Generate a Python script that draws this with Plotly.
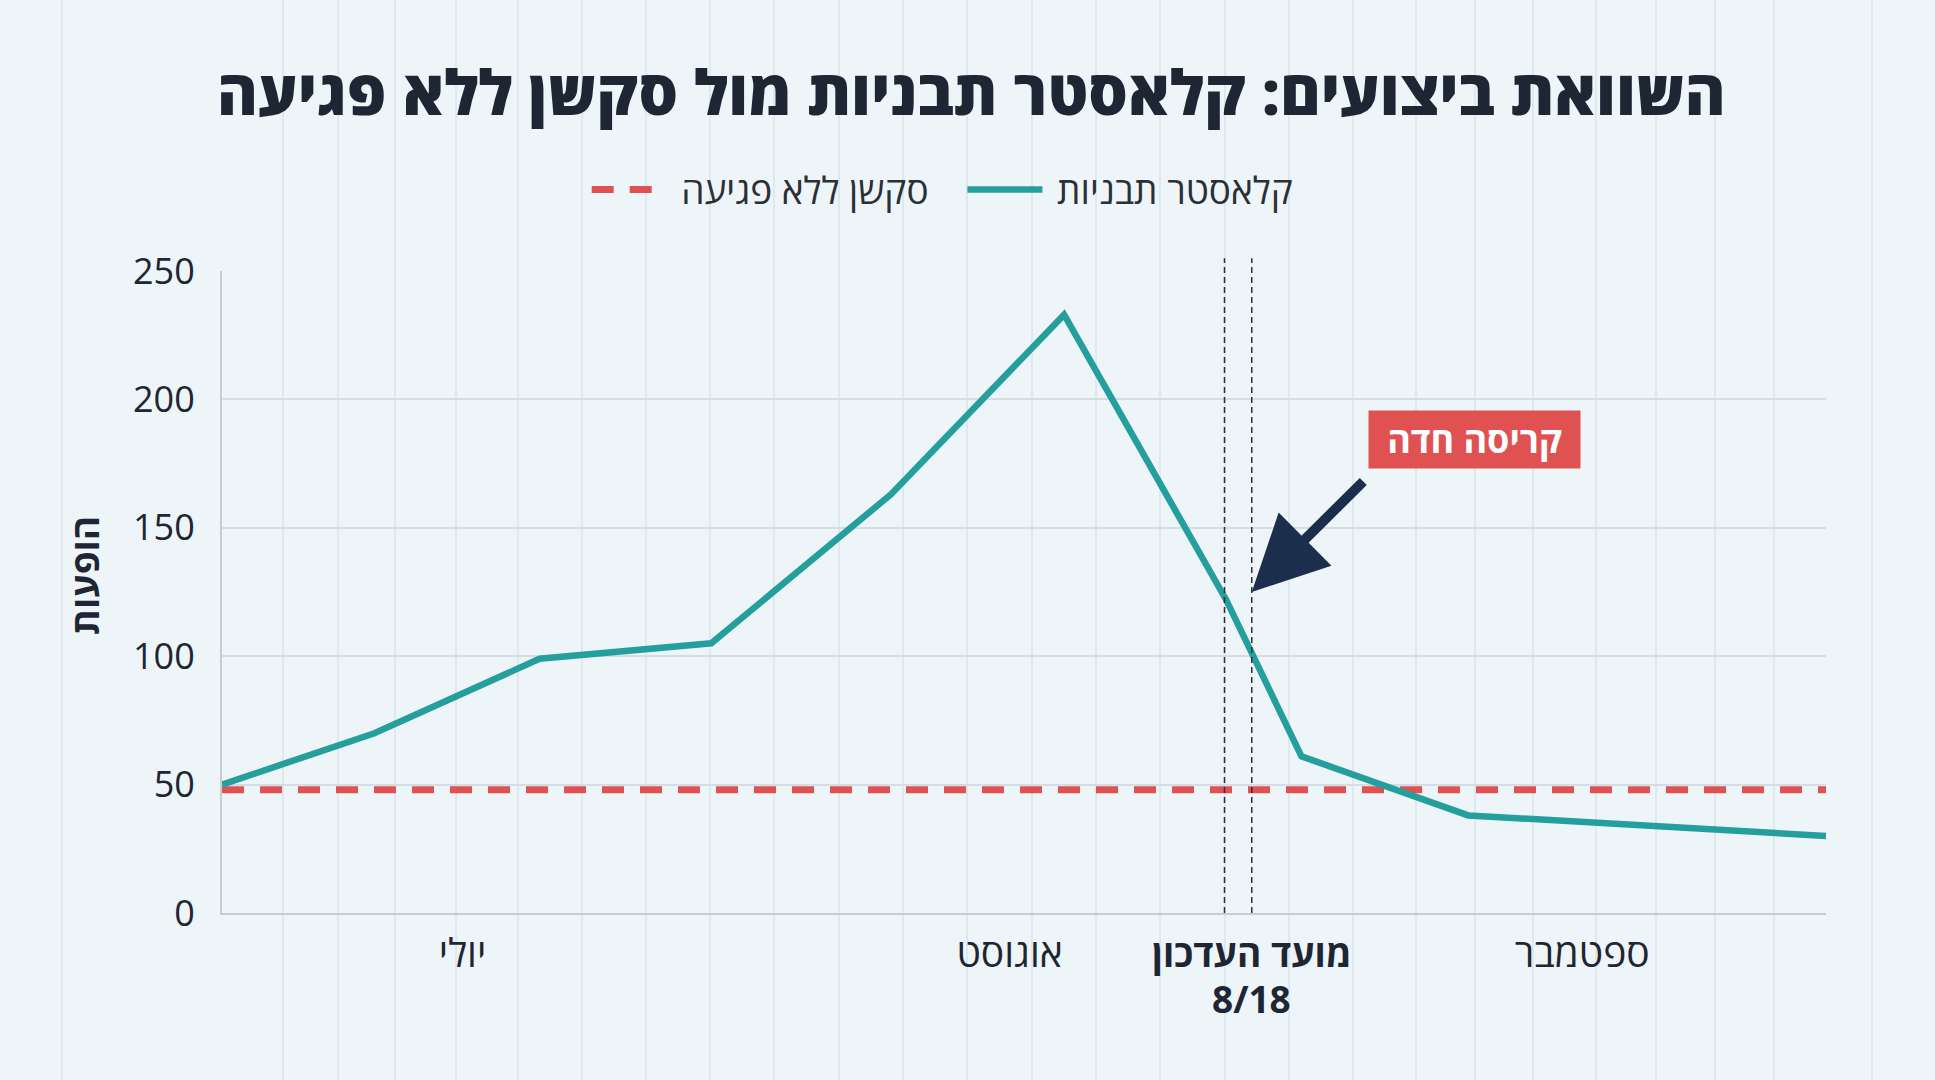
import plotly.graph_objects as go

# ---- data ----
x_pos = [0, 9.5, 19.8, 30.5, 41.7, 52.5, 62.6, 67.3, 77.7, 89.3, 100]
cluster_vals = [50, 70, 99, 105, 163, 233, 122, 61, 38, 34, 30]
baseline_x = [0, 100]
baseline_vals = [48, 48]

tick_vals = [15.0, 49.1, 64.2, 84.8]
tick_text = ["יולי", "אוגוסט", "מועד העדכון", "ספטמבר"]
update_date_label = "8/18"

update_marks = [62.5, 64.2]
crash_point = (64.2, 125)

TITLE = "השוואת ביצועים: קלאסטר תבניות מול סקשן ללא פגיעה"
NAME_CLUSTER = "קלאסטר תבניות"
NAME_BASE = "סקשן ללא פגיעה"
Y_TITLE = "הופעות"
CALLOUT = "קריסה חדה"

# ---- style ----
W, H = 1935, 1080
ML, MR, MT, MB = 222, 109, 271, 167
PW = W - ML - MR
PH = H - MT - MB
BG = "#EEF5F8"
TEAL = "#259E9E"
RED = "#E05252"
NAVY = "#1B2E4B"
TXT = "#1E2633"
FONT = "Open Sans, DejaVu Sans, sans-serif"
NB = "\u00a0"

# decorative background rule lines (pixel positions across the page)
bg_lines_px = [62, 283, 338, 395, 456, 518, 582, 646, 710, 774, 839, 903, 967,
               1032, 1096, 1160, 1225, 1289, 1353, 1416, 1475, 1533, 1596,
               1656, 1715, 1774, 1872]

fig = go.Figure()
fig.add_trace(go.Scatter(
    x=baseline_x, y=baseline_vals, mode="lines", name=NB + NAME_BASE + NB * 3,
    line=dict(color=RED, width=7, dash="22px,16px"),
))
fig.add_trace(go.Scatter(
    x=x_pos, y=cluster_vals, mode="lines", name=NB + NAME_CLUSTER,
    line=dict(color=TEAL, width=6.5),
))

shapes = []
for px in bg_lines_px:
    xp = (px - ML) / PW
    shapes.append(dict(type="line", xref="paper", yref="paper",
                       x0=xp, x1=xp, y0=-0.3, y1=1.45, layer="below",
                       line=dict(color="#D6E0E6", width=1.2)))
for xv in update_marks:
    shapes.append(dict(type="line", xref="x", yref="paper",
                       x0=xv, x1=xv, y0=0, y1=1.02, layer="above",
                       line=dict(color="#2B2F36", width=1.5, dash="6px,4px")))

annotations = [
    dict(x=crash_point[0], y=crash_point[1], xref="x", yref="y",
         ax=113, ay=-112, text="", showarrow=True,
         arrowhead=2, arrowsize=1.5, arrowwidth=10, arrowcolor=NAVY),
    dict(x=78.1, y=184.5, xref="x", yref="y", text="<b>" + CALLOUT + "</b>",
         showarrow=False, font=dict(family=FONT, size=36, color="white"),
         bgcolor=RED, borderpad=6, width=199, height=45),
    dict(x=(84 - ML) / PW, y=(913 - 576) / PH, xref="paper", yref="paper",
         xanchor="center", yanchor="middle",
         text="<b>" + Y_TITLE + "</b>", textangle=-90, showarrow=False,
         font=dict(family=FONT, size=37, color=TXT)),
    dict(x=tick_vals[2], y=(913 - 999) / PH, xref="x", yref="paper",
         xanchor="center", yanchor="middle", showarrow=False,
         text="<b>" + update_date_label + "</b>",
         font=dict(family=FONT, size=37, color=TXT)),
]

fig.update_layout(
    width=W, height=H,
    margin=dict(l=ML, r=MR, t=MT, b=MB),
    paper_bgcolor=BG, plot_bgcolor="rgba(0,0,0,0)",
    title=dict(text=TITLE, x=0.502, xanchor="center",
               y=1 - 93 / H, yanchor="middle", yref="container",
               font=dict(family=FONT, size=62, color=TXT, weight=800)),
    legend=dict(orientation="h", x=0.449, xanchor="center",
                y=1 - 190 / H, yanchor="middle", yref="container",
                font=dict(family=FONT, size=37, color="#2B2F36"),
                bgcolor="rgba(0,0,0,0)", itemwidth=75),
    shapes=shapes, annotations=annotations,
    showlegend=True,
)
fig.update_xaxes(range=[0, 100], tickvals=tick_vals,
                 ticktext=[t if i != 2 else "<b><span style='font-size:37px'>" + t + "</span></b>"
                           for i, t in enumerate(tick_text)],
                 showgrid=False, zeroline=False, showline=True,
                 linecolor="#C3CDD3", linewidth=2, ticks="",
                 ticklabelstandoff=5,
                 tickfont=dict(family=FONT, size=39, color=TXT))
fig.update_yaxes(range=[0, 250], tickvals=[0, 50, 100, 150, 200, 250],
                 showgrid=True, gridcolor="#D3DDE2", gridwidth=1.5,
                 zeroline=False, showline=True, linecolor="#C3CDD3",
                 linewidth=2, ticks="", ticklabelstandoff=18,
                 tickfont=dict(family=FONT, size=36, color=TXT))

fig.write_html("out.html", config={"displayModeBar": False},
               post_script="document.body.style.margin='0';document.body.style.overflow='hidden';")
